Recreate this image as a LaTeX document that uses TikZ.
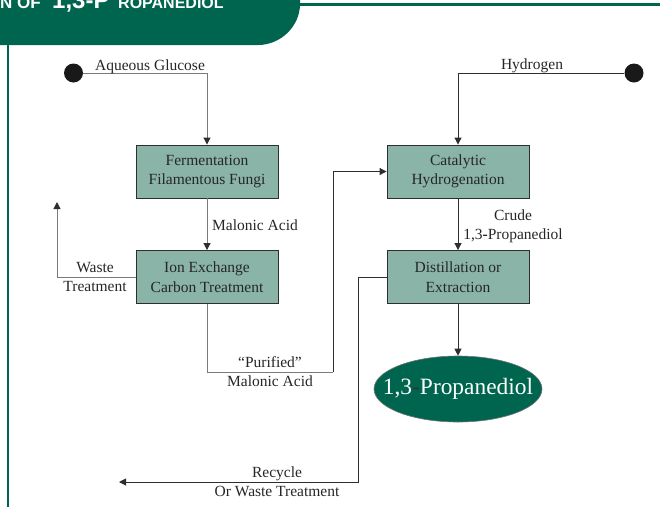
\documentclass[tikz,border=0pt]{standalone}
\usepackage{fontspec}
\setmainfont{Liberation Serif}
\newfontfamily\titlefont{Liberation Sans}
\usetikzlibrary{arrows.meta,shapes.geometric}
\definecolor{dkgreen}{HTML}{00654F}
\definecolor{boxfill}{HTML}{8AB4A8}
\definecolor{lgrey}{HTML}{7A7A7A}
\definecolor{dline}{HTML}{2E2E2E}
\begin{document}
\begin{tikzpicture}[x=1pt,y=-1pt,
  procbox/.style={draw=dline, line width=0.9pt, fill=boxfill, minimum width=142pt, minimum height=53pt, align=center, font=\fontsize{15.5}{19.5}\selectfont, text=black!85, inner sep=0pt},
  lbl/.style={font=\fontsize{15.5}{19.5}\selectfont, text=black!85, inner sep=0pt},
  gflow/.style={draw=lgrey, line width=1pt},
  dflow/.style={draw=dline, line width=1pt},
  tip/.style={-{Triangle[width=7pt,length=7pt,color=dline]}},
  dotnode/.style={circle, fill=black!90, minimum size=19pt, inner sep=0pt},
  ttl/.style={anchor=base west, inner sep=0pt, text=white},
]
\useasboundingbox (0,0) rectangle (660,507);
\clip (0,0) rectangle (660,507);
% header
\fill[dkgreen] (0,0) -- (300,0) -- (300,4) .. controls (300,26) and (281,45) .. (258,45) -- (0,45) -- cycle;
\draw[dkgreen, line width=3pt] (300,4.5) -- (660,4.5);
\draw[dkgreen, line width=2pt] (8,45) -- (8,507);
\node[ttl, font=\titlefont\bfseries\fontsize{17}{17}\selectfont] (t1) at (0,8.5) {N OF};
\node[ttl, font=\titlefont\bfseries\fontsize{24}{24}\selectfont] (t2) at (52,8.5) {1,3-P};
\node[ttl, font=\titlefont\bfseries\fontsize{16}{16}\selectfont] (t3) at (118,8.5) {ROPANEDIOL};
% nodes
\node[procbox] (ferm) at (207,171.5) {Fermentation\\Filamentous Fungi};
\node[procbox] (ion) at (207,277) {Ion Exchange\\Carbon Treatment};
\node[procbox] (cat) at (458,171.5) {Catalytic\\Hydrogenation};
\node[procbox] (dist) at (458,277) {Distillation or\\Extraction};
\node[ellipse, fill=dkgreen, draw=black!55, line width=0.6pt, minimum width=168pt, minimum height=66pt, inner sep=0pt, text=white, font=\fontsize{23.4}{26}\selectfont] (prod) at (458,389) {\makebox[0pt]{1,3\textcolor{black!80}{-}Propanediol}};
\node[dotnode] (dot1) at (73.5,73) {};
\node[dotnode] (dot2) at (634,73) {};
% coordinates
\coordinate (w1) at (57,277);
\coordinate (w2) at (57,202);
\coordinate (p1) at (207,372);
\coordinate (p2) at (333,372);
\coordinate (p3) at (333,171.5);
\coordinate (r1) at (358,277);
\coordinate (r2) at (358,482);
\coordinate (r3) at (119,482);
% connectors
\draw[gflow,tip] (dot1) -- (dot1 -| ferm) -- (ferm);
\draw[dflow,tip] (dot2) -- (dot2 -| cat) -- (cat);
\draw[gflow,tip] (ferm) -- (ion);
\draw[gflow,tip] (ion.west) -- (w1) -- (w2);
\draw[gflow] (ion) -- (p1) -- (p2);
\draw[dflow,tip] (p2) -- (p3) -- (cat);
\draw[dflow,tip] (cat) -- (dist);
\draw[dflow,tip] (dist) -- (prod);
\draw[dflow,tip] (dist.west) -- (r1) -- (r2) -- (r3);
% labels
\node[lbl, anchor=base] (l1) at (150,70) {Aqueous Glucose};
\node[lbl, anchor=base] (l2) at (532,69.5) {Hydrogen};
\node[lbl, anchor=base west] (l3) at (212,230) {Malonic Acid};
\node[lbl, anchor=base] (l4) at (95,272.7) {Waste};
\node[lbl, anchor=base] (l5) at (95,291.7) {Treatment};
\node[lbl, anchor=base] (l6) at (270,367) {``Purified''};
\node[lbl, anchor=base] (l7) at (270,386) {Malonic Acid};
\node[lbl, anchor=base] (l8) at (513,220.7) {Crude};
\node[lbl, anchor=base] (l9) at (513,239.3) {1,3\textbf{-}Propanediol};
\node[lbl, anchor=base] (l10) at (277,477) {Recycle};
\node[lbl, anchor=base] (l11) at (277,496) {Or Waste Treatment};
\end{tikzpicture}
\end{document}
